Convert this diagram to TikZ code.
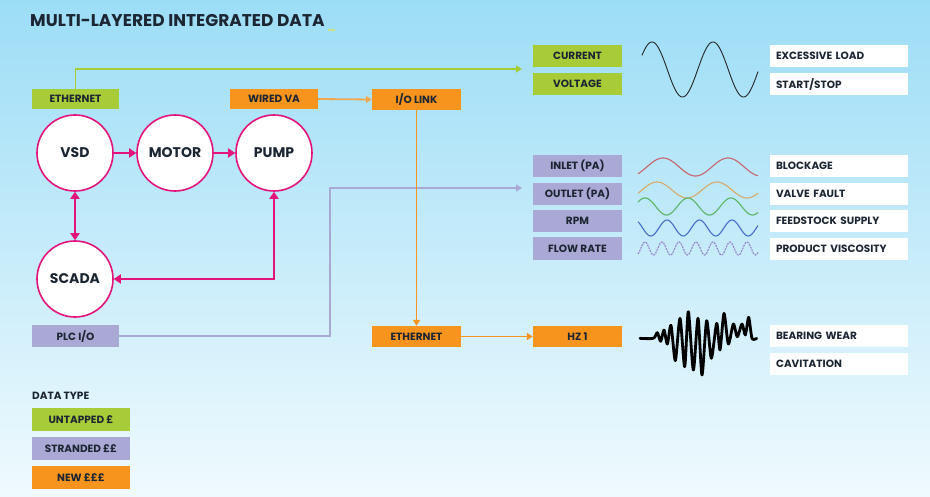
\documentclass[tikz,border=0pt]{standalone}
\usepackage{fontspec}
\setmainfont{Poppins}
\usetikzlibrary{arrows.meta,calc}
\definecolor{ink}{RGB}{28,38,51}
\definecolor{lime}{RGB}{168,204,56}
\definecolor{orng}{RGB}{247,148,30}
\definecolor{lav}{RGB}{170,168,212}
\definecolor{mag}{RGB}{226,20,124}
\definecolor{bgtop}{RGB}{156,221,246}
\definecolor{bgbot}{RGB}{240,250,254}
\tikzset{
  lbl/.style={font=\bfseries\fontsize{10.5}{12}\selectfont, text=ink},
  cbox/.style={lbl, minimum width=89pt, minimum height=22pt, inner sep=0pt},
  gbox/.style={cbox, fill=lime},
  obox/.style={cbox, fill=orng},
  pbox/.style={cbox, fill=lav},
  wbox/.style={lbl, fill=white, minimum width=138pt, minimum height=22pt, inner xsep=6pt, inner ysep=0pt, text width=126pt, align=left},
  lgbox/.style={cbox, minimum width=98pt, minimum height=23pt},
  circ/.style={circle, draw=mag, line width=1.6pt, fill=white, minimum size=76pt, inner sep=0pt, font=\bfseries\fontsize{14}{16}\selectfont, text=ink},
  magarr/.style={draw=mag, line width=2pt, {Triangle[length=7pt,width=9pt]}-{Triangle[length=7pt,width=9pt]}},
  magone/.style={draw=mag, line width=2pt, -{Triangle[length=7pt,width=9pt]}},
  link/.style={line width=1.8pt, -{Triangle[length=6pt,width=7pt]}},
  wave/.style={line width=1.1pt, smooth, samples=120},
}
\begin{document}
\begin{tikzpicture}[x=1pt,y=-1pt]
\shade[top color=bgtop, bottom color=bgbot] (0,0) rectangle (930,497);
\useasboundingbox (0,0) rectangle (930,497);

% title
\node[anchor=west, inner sep=0pt, font=\bfseries\fontsize{17}{20}\selectfont, text=ink] (title) at (30,21) {MULTI-LAYERED INTEGRATED DATA};
\draw[lime!60, line width=1.3pt] (328,30) -- (335,30);

% green boxes
\node[gbox, minimum width=87pt, minimum height=20pt] (eth) at (75.5,99) {ETHERNET};
\node[gbox] (current) at (577.5,56) {CURRENT};
\node[gbox] (voltage) at (577.5,84) {VOLTAGE};

% orange boxes
\node[obox, minimum width=88pt, minimum height=20pt] (wva) at (274,99) {WIRED VA};
\node[obox, minimum height=21pt] (io) at (416.5,99.5) {I/O LINK};
\node[obox, minimum height=21pt] (eth2) at (416.5,336.5) {ETHERNET};
\node[obox, minimum height=21pt] (hz) at (577.5,336.5) {HZ 1};

% lavender boxes
\node[pbox, minimum width=87pt] (plc) at (75.5,336) {PLC I/O};
\node[pbox] (inlet) at (577.5,166) {INLET (PA)};
\node[pbox] (outlet) at (577.5,194) {OUTLET (PA)};
\node[pbox] (rpm) at (577.5,221) {RPM};
\node[pbox, minimum height=23pt] (flow) at (577.5,249) {FLOW RATE};

% white boxes
\node[wbox] (w1) at (839,56) {EXCESSIVE LOAD};
\node[wbox] (w2) at (839,84) {START/STOP};
\node[wbox] (w3) at (839,166) {BLOCKAGE};
\node[wbox] (w4) at (839,194) {VALVE FAULT};
\node[wbox] (w5) at (839,221) {FEEDSTOCK SUPPLY};
\node[wbox] (w6) at (839,249) {PRODUCT VISCOSITY};
\node[wbox] (w7) at (839,336) {BEARING WEAR};
\node[wbox] (w8) at (839,364) {CAVITATION};

% circles
\node[circ] (vsd) at (75,153) {VSD};
\node[circ] (motor) at (175,153) {MOTOR};
\node[circ] (pump) at (274,153) {PUMP};
\node[circ] (scada) at (75,279) {SCADA};

% connectors
\coordinate (gtip) at (522,69);
\coordinate (ltip) at (522,188);
\draw[link, color=lime] (eth.north) |- (gtip);
\draw[link, color=lav] (plc.east) -| ($(ltip)+(-192,0)$) -- (ltip);
\draw[link, color=orng!85!brown!80!white] (wva.east) -- (io.west);
\draw[link, color=orng] (io.south) -- (eth2.north);
\draw[link, color=orng] (eth2.east) -- (hz.west);

\draw[magone] (vsd) -- (motor);
\draw[magone] (motor) -- (pump);
\draw[magarr] (vsd) -- (scada);
\draw[magarr] (pump.south) |- (scada.east);

% waves
\draw[wave, line width=0.9pt, black!85, domain=642:758] plot (\x,{69.5-27.5*cos((360/61)*(\x-652))});
\draw[wave, color={rgb,255:red,200;green,100;blue,110}, domain=638:758] plot (\x,{167-9*cos((360/65)*(\x-663))});
\draw[wave, color={rgb,255:red,215;green,170;blue,110}, domain=638:758] plot (\x,{190-8*cos((360/60)*(\x-657))});
\draw[wave, color={rgb,255:red,90;green,180;blue,100}, domain=638:758] plot (\x,{206.5-8.5*cos((360/43)*(\x-645))});
\draw[wave, color={rgb,255:red,70;green,110;blue,200}, domain=638:758] plot (\x,{228-8*cos((360/32.5)*(\x-667))});
\draw[wave, samples=240, dash pattern=on 2pt off 1pt, color={rgb,255:red,150;green,130;blue,200}, domain=638:758] plot (\x,{248.5-6.5*cos((360/17)*(\x-645))});

% vibration signal
\begin{scope}[shift={(620,300)}, xscale=1/3, yscale=1/3]
\draw[line width=2.8pt, black, line join=round, line cap=round] plot[smooth, tension=0.45] coordinates {
(60,115) (100,115) (112,98) (122,124) (132,90) (142,132) (153,76) (166,182) (180,55) (194,200) (205,35) (220,210) (234,55) (246,225) (260,62) (274,175) (290,70) (300,150) (312,40) (325,132) (340,72) (352,110) (366,72) (376,105) (386,52) (396,115) (410,115)};
\end{scope}

% legend
\node[anchor=west, inner sep=0pt, font=\bfseries\fontsize{10.5}{12}\selectfont, text=ink] (dt) at (32,396) {DATA TYPE};
\node[lgbox, fill=lime] (l1) at (81,419.5) {UNTAPPED £};
\node[lgbox, fill=lav] (l2) at (81,448.5) {STRANDED ££};
\node[lgbox, fill=orng] (l3) at (81,477.5) {NEW £££};
\end{tikzpicture}
\end{document}
